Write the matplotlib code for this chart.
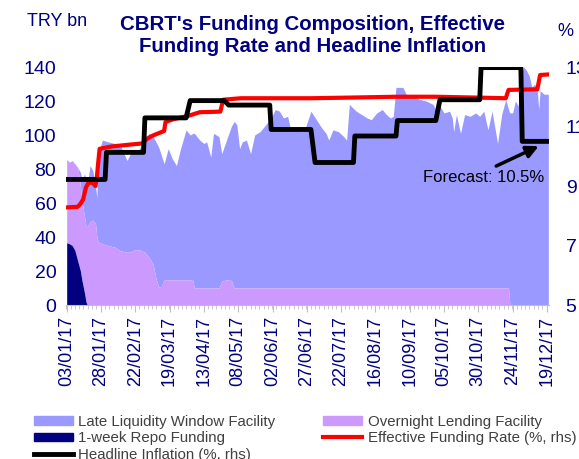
import pandas as pd
import matplotlib
matplotlib.use("Agg")
import matplotlib.pyplot as plt
import matplotlib.dates as mdates
import matplotlib.ticker as mticker
from matplotlib.patches import Patch
from matplotlib.lines import Line2D

plt.rcParams['font.family'] = ['Liberation Sans', 'DejaVu Sans']

# Funding composition (TRY bn)
dates = ['2017-01-03', '2017-01-05', '2017-01-07', '2017-01-09', '2017-01-11', '2017-01-13',
         '2017-01-14', '2017-01-16', '2017-01-17', '2017-01-18', '2017-01-20', '2017-01-22',
         '2017-01-24', '2017-01-25', '2017-01-26', '2017-01-29', '2017-02-02', '2017-02-07',
         '2017-02-11', '2017-02-16', '2017-02-19', '2017-02-22', '2017-02-25', '2017-03-01',
         '2017-03-04', '2017-03-07', '2017-03-09', '2017-03-11', '2017-03-13', '2017-03-15',
         '2017-03-18', '2017-03-21', '2017-03-24', '2017-03-27', '2017-03-31', '2017-04-03',
         '2017-04-05', '2017-04-06', '2017-04-10', '2017-04-13', '2017-04-15', '2017-04-18',
         '2017-04-20', '2017-04-24', '2017-04-26', '2017-04-29', '2017-05-03', '2017-05-05',
         '2017-05-07', '2017-05-09', '2017-05-11', '2017-05-14', '2017-05-17', '2017-05-20',
         '2017-05-24', '2017-05-28', '2017-06-01', '2017-06-04', '2017-06-07', '2017-06-10',
         '2017-06-13', '2017-06-15', '2017-06-20', '2017-06-25', '2017-06-30', '2017-07-04',
         '2017-07-08', '2017-07-11', '2017-07-13', '2017-07-16', '2017-07-20', '2017-07-24',
         '2017-07-26', '2017-07-28', '2017-08-02', '2017-08-06', '2017-08-10', '2017-08-13',
         '2017-08-17', '2017-08-21', '2017-08-24', '2017-08-27', '2017-08-29', '2017-08-31',
         '2017-09-05', '2017-09-08', '2017-09-12', '2017-09-17', '2017-09-22', '2017-09-27',
         '2017-09-29', '2017-10-02', '2017-10-05', '2017-10-09', '2017-10-11', '2017-10-12',
         '2017-10-14', '2017-10-17', '2017-10-20', '2017-10-24', '2017-10-28', '2017-10-31',
         '2017-11-03', '2017-11-06', '2017-11-09', '2017-11-13', '2017-11-16', '2017-11-19',
         '2017-11-21', '2017-11-22', '2017-11-24', '2017-11-26', '2017-11-28', '2017-11-30',
         '2017-12-02', '2017-12-04', '2017-12-06', '2017-12-08', '2017-12-10', '2017-12-12',
         '2017-12-13', '2017-12-14', '2017-12-17', '2017-12-20']

repo = [36.6, 36, 35, 32, 26, 20, 15, 7, 2] + [0] * 115

overnight = [49.1, 48, 50, 51, 55, 50, 47, 45, 45, 46, 49, 50,
             48, 40, 37, 36, 35, 34, 32, 31, 31.5, 32.5, 32.5, 31,
             28, 24, 16, 10.5, 11, 14.7, 14.7, 14.7, 14.7, 14.7, 14.7, 14.7,
             14.5, 10, 10, 10, 10, 10, 10, 10, 14, 14.7, 14.5] + [10] * 62 + [0] * 15

llw = [0, 0, 0, 0, 0, 8, 12, 25, 27, 24, 33, 29,
       22, 23, 52, 61, 61, 61, 62, 54, 58.5, 56.5, 59.5, 66,
       73, 75, 80, 82.5, 77, 68.3, 77.3, 71.3, 67.3, 77.3, 88.3, 85.3,
       86.5, 91, 87, 85, 86, 77, 91, 89, 75, 81.3, 90.5, 98,
       96, 82, 86, 87, 79, 90, 92, 96, 100, 105, 104, 100,
       101, 94, 93, 92, 104, 99, 94, 91, 87, 93, 92, 89,
       87, 108, 104, 102, 100, 99, 103, 105, 102, 100, 101, 118,
       118, 113, 113, 111, 110, 108, 105, 107, 103, 104, 100, 92,
       102, 91, 102, 101, 103, 101, 104, 93, 104, 85, 102, 111,
       105, 113, 113, 120, 117, 136, 140, 138, 135, 128, 130, 126,
       115, 126, 124, 124]

# Effective funding rate (%)
efr_dates = ['2017-01-03', '2017-01-11', '2017-01-13', '2017-01-15', '2017-01-17', '2017-01-19',
             '2017-01-22', '2017-01-24', '2017-01-25', '2017-01-26', '2017-01-27', '2017-02-05',
             '2017-02-20', '2017-02-27', '2017-03-03', '2017-03-07', '2017-03-15', '2017-03-16',
             '2017-03-22', '2017-04-01', '2017-04-10', '2017-04-25', '2017-04-27', '2017-05-10',
             '2017-06-30', '2017-07-26', '2017-08-31', '2017-09-29', '2017-10-31', '2017-11-19',
             '2017-11-21', '2017-12-12', '2017-12-14', '2017-12-20']
efr = [8.28, 8.30, 8.40, 8.55, 8.95, 9.12, 9.10, 9.00, 9.30, 9.80, 10.25, 10.33,
       10.40, 10.43, 10.60, 10.70, 10.85, 11.15, 11.25, 11.35, 11.48, 11.50, 11.90, 11.95,
       11.95, 11.97, 12.00, 12.00, 11.97, 11.95, 12.23, 12.25, 12.73, 12.75]

# Headline inflation (%), monthly, Dec = forecast
months = ['2017-01', '2017-02', '2017-03', '2017-04', '2017-05', '2017-06',
          '2017-07', '2017-08', '2017-09', '2017-10', '2017-11', '2017-12']
inflation = [9.22, 10.13, 11.29, 11.87, 11.72, 10.90, 9.79, 10.68, 11.20, 11.90, 12.98, 10.5]

navy = '#000080'
d = pd.to_datetime(dates)
top_on = [r + o for r, o in zip(repo, overnight)]
top_all = [t + l for t, l in zip(top_on, llw)]

# step line for monthly inflation: first to last business day of each month
infl_x, infl_y = [], []
for m, v in zip(months, inflation):
    start = pd.Timestamp(m + '-01')
    first = start + pd.offsets.BDay(0)
    last = start + pd.offsets.BMonthEnd(0)
    if m == '2017-01':
        first = pd.Timestamp('2017-01-03')
    if m == '2017-12':
        last = pd.Timestamp('2017-12-21')
    infl_x += [first, last]
    infl_y += [v, v]

fig = plt.figure(figsize=(5.79, 4.59), dpi=100)
ax = fig.add_axes([66 / 579, 1 - 305 / 459, (549 - 66) / 579, (305 - 67) / 459])
ax2 = ax.twinx()

ax.fill_between(d, top_on, top_all, color='#9999FF', lw=0)
ax.fill_between(d, repo, top_on, color='#CC99FF', lw=0)
ax.fill_between(d, 0, repo, color=navy, lw=0)

ax2.plot(pd.to_datetime(efr_dates), efr, color='#FF0000', lw=3)
ax2.plot(infl_x, infl_y, color='black', lw=3.5)

ax.set_ylim(0, 140)
ax2.set_ylim(5, 13)
ax.set_xlim(pd.Timestamp('2017-01-02 12:00'), pd.Timestamp('2017-12-20 12:00'))

ax.set_yticks(range(0, 141, 20))
ax2.set_yticks([5, 7, 9, 11, 13])
ax.tick_params(axis='y', length=0, labelsize=14, labelcolor=navy, pad=7)
ax2.tick_params(axis='y', length=0, labelsize=14, labelcolor=navy, pad=12)

start = mdates.date2num(pd.Timestamp('2017-01-03'))
ax.xaxis.set_major_locator(mticker.FixedLocator([start + 25 * k for k in range(15)]))
ax.xaxis.set_minor_locator(mticker.MultipleLocator(25 / 8))
ax.xaxis.set_major_formatter(mdates.DateFormatter('%d/%m/%y'))
ax.tick_params(axis='x', which='major', length=5, color='#c0c0c0', labelsize=13,
               labelcolor=navy, labelrotation=90, pad=3)
ax.tick_params(axis='x', which='minor', length=3, color='#c0c0c0')

for a in (ax, ax2):
    for s in ['top', 'left', 'right']:
        a.spines[s].set_visible(False)
ax2.spines['bottom'].set_visible(False)
ax.spines['bottom'].set_color('#c0c0c0')

# forecast note
ax2.annotate('', xy=(pd.Timestamp('2017-12-13'), 10.34), xytext=(pd.Timestamp('2017-11-12'), 9.67),
             arrowprops=dict(arrowstyle='-|>', color='black', lw=2.5, mutation_scale=18,
                             shrinkA=0, shrinkB=0))
ax2.text(pd.Timestamp('2017-11-03'), 9.27, 'Forecast: 10.5%', fontsize=12, ha='center', va='center')

fig.text(313 / 579, 1 - 35.5 / 459, "CBRT's Funding Composition, Effective\nFunding Rate and Headline Inflation",
         ha='center', va='center', fontsize=14.7, fontweight='bold', color=navy, linespacing=1.25)
fig.text(27 / 579, 1 - 22 / 459, 'TRY bn', ha='left', va='center', fontsize=13, color=navy)
fig.text(557 / 579, 1 - 31 / 459, '%', ha='left', va='center', fontsize=13, color=navy)

handles = [Patch(color='#9999FF'), Patch(color=navy), Line2D([], [], color='black', lw=3.5),
           Patch(color='#CC99FF'), Line2D([], [], color='#FF0000', lw=3)]
labels = ['Late Liquidity Window Facility', '1-week Repo Funding', 'Headline Inflation (%, rhs)',
          'Overnight Lending Facility', 'Effective Funding Rate (%, rhs)']
fig.legend(handles, labels, ncol=2, loc='upper left', bbox_to_anchor=(34 / 579, 1 - 415 / 459),
           frameon=False, fontsize=10.8, labelcolor='#404040', handlelength=2.6, handleheight=0.5,
           handletextpad=0.35, columnspacing=3.2, labelspacing=0.15, borderpad=0, borderaxespad=0)

fig.savefig('out.png', dpi=100)
